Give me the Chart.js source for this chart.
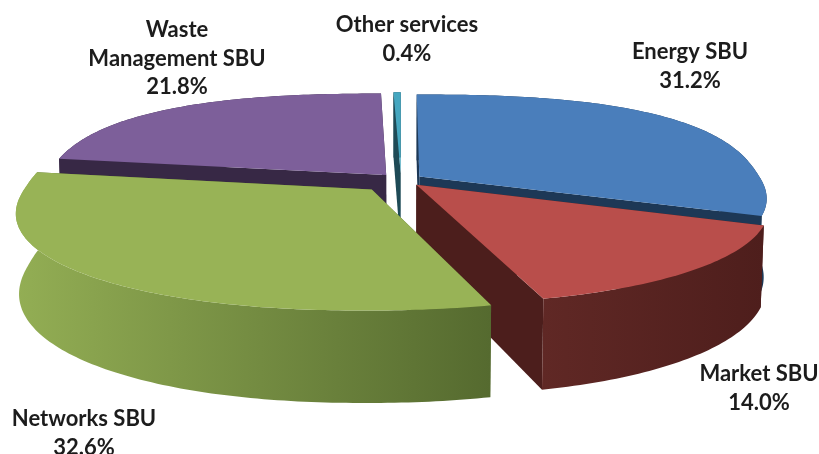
<!DOCTYPE html>
<html>
<head>
<meta charset="utf-8">
<title>Revenue by SBU</title>
<style>
  html, body { margin: 0; padding: 0; background: #fff; }
  canvas { display: block; }
</style>
<script src="https://cdn.jsdelivr.net/npm/chart.js@4/dist/chart.umd.js"></script>
</head>
<body>
<canvas id="pieChart" width="819" height="454"></canvas>
<script>
const categories = ['Energy SBU', 'Market SBU', 'Networks SBU', 'Waste Management SBU', 'Other services'];
const shares = [31.2, 14.0, 32.6, 21.8, 0.4];
const labelLines = [['Energy SBU'], ['Market SBU'], ['Networks SBU'], ['Waste', 'Management SBU'], ['Other services']];

const topColors = ['#4a7ebb', '#b94e4b', '#98b356', '#7d5f9a', '#45a7c0'];
const faceColors = ['#1d3856', '#4c1e1c', '#566b30', '#372845', '#1e4a56'];
const wallColors = [['#1d3856', '#1d3856'], ['#602825', '#4e1e1c'], ['#93ae54', '#556a2f'], ['#372845', '#372845'], ['#1e4a56', '#1e4a56']];
// how far each slice is pulled out of the pie, as a fraction of its radius
const explode = [0.065, 0.066, 0.127, 0.067, 0.07];
// back to front
const paintOrder = [3, 4, 0, 1, 2];

const labelAnchors = [[690, 52], [759, 374], [84, 419], [177, 30], [407, 25]];
const lineGap = 28.5;

// tilted view of the pie plane
const view = { cx: 401, cy: 180, rx: 342, ry: 97, depth: 77, persp: 0.17, skew: 0, taper: 0.008, squareBack: 2.5, squareFront: 2.15 };

function project(x, y, z) {
  const w = 1 - view.persp * y - view.skew * x + view.taper * z;
  return [view.cx + view.rx * x / w, view.cy + (view.ry * y + view.depth * z) / w];
}

// rim radius: a slightly squared circle, the way the rounded pie reads in this view
function rimRadius(angle) {
  const n = Math.cos(angle) > 0 ? view.squareBack : view.squareFront;
  return Math.pow(Math.pow(Math.abs(Math.sin(angle)), n) + Math.pow(Math.abs(Math.cos(angle)), n), -1 / n);
}

function tracePath(ctx, points) {
  ctx.beginPath();
  points.forEach(([x, y], i) => (i ? ctx.lineTo(x, y) : ctx.moveTo(x, y)));
  ctx.closePath();
}

function drawSlice(ctx, arc, index) {
  // Chart.js angles start at 3 o'clock, the rotation option puts 0 at 12 o'clock
  const start = arc.startAngle + Math.PI / 2;
  const end = arc.endAngle + Math.PI / 2;
  const mid = (start + end) / 2;
  const ox = Math.sin(mid) * explode[index];
  const oy = -Math.cos(mid) * explode[index];
  const at = (angle, r, z) => {
    const radius = r * rimRadius(angle);
    return project(ox + radius * Math.sin(angle), oy - radius * Math.cos(angle), z);
  };

  const steps = Math.max(2, Math.ceil((end - start) * 60));
  const rim = [];
  for (let i = 0; i <= steps; i++) rim.push(start + (end - start) * i / steps);

  // radial faces
  ctx.fillStyle = faceColors[index];
  [start, end].forEach(angle => {
    tracePath(ctx, [at(angle, 0, 0), at(angle, 1, 0), at(angle, 1, 1), at(angle, 0, 1)]);
    ctx.fill();
  });

  // outer wall
  const wall = rim.map(a => at(a, 1, 0)).concat(rim.slice().reverse().map(a => at(a, 1, 1)));
  const xs = wall.map(p => p[0]);
  const shade = ctx.createLinearGradient(Math.min(...xs), 0, Math.max(...xs), 0);
  shade.addColorStop(0, wallColors[index][0]);
  shade.addColorStop(1, wallColors[index][1]);
  ctx.fillStyle = shade;
  tracePath(ctx, wall);
  ctx.fill();

  // top surface
  ctx.fillStyle = topColors[index];
  tracePath(ctx, [at(start, 0, 0)].concat(rim.map(a => at(a, 1, 0))));
  ctx.fill();
}

const tiltedPie = {
  id: 'tiltedPie',
  beforeDatasetDraw(chart, args) {
    const ctx = chart.ctx;
    const arcs = args.meta.data;
    ctx.save();
    paintOrder.forEach(i => drawSlice(ctx, arcs[i], i));
    ctx.restore();
    return false;
  },
  afterDraw(chart) {
    const ctx = chart.ctx;
    ctx.save();
    ctx.font = 'bold 22px Lato, "Open Sans", sans-serif';
    ctx.fillStyle = '#1c1c1c';
    ctx.textAlign = 'center';
    ctx.textBaseline = 'middle';
    categories.forEach((name, i) => {
      const lines = labelLines[i].concat(shares[i].toFixed(1) + '%');
      lines.forEach((line, n) => ctx.fillText(line, labelAnchors[i][0], labelAnchors[i][1] + n * lineGap));
    });
    ctx.restore();
  }
};

new Chart(document.getElementById('pieChart'), {
  type: 'pie',
  data: {
    labels: categories,
    datasets: [{ data: shares, backgroundColor: topColors, borderWidth: 0 }]
  },
  options: {
    responsive: false,
    animation: false,
    rotation: 0,
    plugins: { legend: { display: false }, tooltip: { enabled: false } }
  },
  plugins: [tiltedPie]
});
</script>
</body>
</html>
